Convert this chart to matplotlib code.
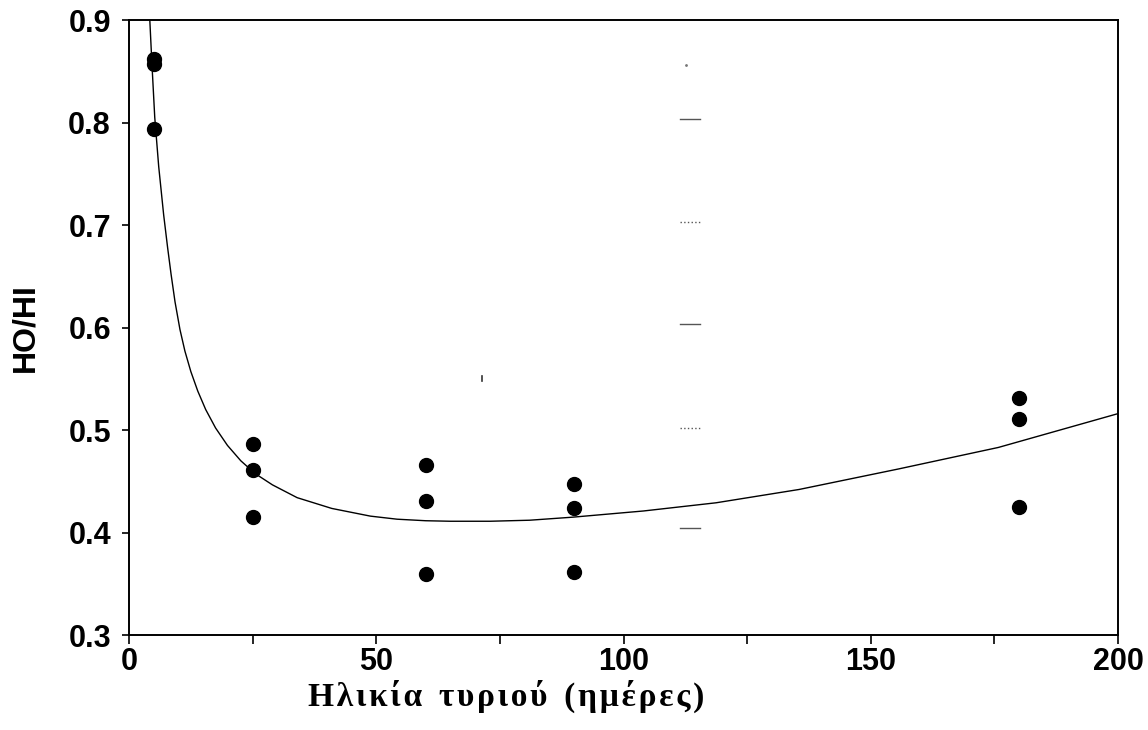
import matplotlib
matplotlib.use("Agg")
import matplotlib.pyplot as plt
from matplotlib.ticker import MultipleLocator

# measured points (cheese age in days, HO/HI)
age = [5, 5, 5, 25, 25, 25, 60, 60, 60, 90, 90, 90, 180, 180, 180]
ratio = [0.862, 0.857, 0.794, 0.486, 0.461, 0.415, 0.466, 0.431, 0.360,
         0.447, 0.424, 0.361, 0.531, 0.511, 0.425]

# fitted curve
curve_x = [4.2, 4.6, 5.2, 6.0, 7.0, 7.8, 8.5, 9.3, 10.3, 11.3, 12.5, 13.9,
           15.5, 17.5, 19.9, 22.6, 25.5, 29.0, 34.0, 41.0, 48.8, 54.2,
           60.0, 65.0, 73.0, 81.0, 89.8, 104.0, 118.7, 135.5, 155.6,
           175.8, 200.0]
curve_y = [0.900, 0.860, 0.805, 0.757, 0.710, 0.678, 0.652, 0.625, 0.598,
           0.577, 0.557, 0.538, 0.520, 0.502, 0.485, 0.470, 0.4575, 0.4465,
           0.434, 0.4235, 0.416, 0.413, 0.4115, 0.411, 0.411, 0.412, 0.415,
           0.421, 0.429, 0.442, 0.462, 0.483, 0.516]

# faint scan marks near x=113
mark_y = [0.803, 0.703, 0.603, 0.502, 0.404]
mark_style = ['-', ':', '-', ':', '-']

fig = plt.figure(figsize=(11.48, 7.30), dpi=100)
ax = fig.add_axes([0.1124, 0.1301, 0.8615, 0.8425])

ax.plot(curve_x, curve_y, color='black', lw=1.0)
ax.plot(age, ratio, 'o', color='black', ms=10)

for yy, ls in zip(mark_y, mark_style):
    ax.plot([111.5, 115.5], [yy, yy], color='#555555', lw=1.0, ls=ls)
ax.plot([112.6], [0.856], '.', color='#777777', ms=2)
ax.plot([71.4, 71.4], [0.548, 0.553], color='#333333', lw=1.2)

ax.set_xlim(0, 200)
ax.set_ylim(0.3, 0.9)
ax.xaxis.set_major_locator(MultipleLocator(50))
ax.xaxis.set_minor_locator(MultipleLocator(25))
ax.set_yticks([0.3, 0.4, 0.5, 0.6, 0.7, 0.8, 0.9])
ax.set_yticklabels(['0.3', '0.4', '0.5', '0.6', '0.7', '0.8', '0.9'])

for s in ax.spines.values():
    s.set_linewidth(1.4)
ax.tick_params(which='both', direction='out', top=False, right=False,
               width=1.2, colors='black')
ax.tick_params(axis='x', which='both', length=6.5, pad=2)
ax.tick_params(axis='y', length=5, pad=8)
for lab in ax.get_xticklabels() + ax.get_yticklabels():
    lab.set_fontfamily(['Liberation Sans', 'DejaVu Sans'])
    lab.set_fontweight('bold')
    lab.set_fontsize(22)

fig.text(0.0218, 0.5514, 'HO/HI', rotation=90, ha='center', va='center',
         fontsize=23, fontweight='bold',
         family=['Liberation Sans', 'DejaVu Sans'])

label = 'Ηλικία τυριού (ημέρες)'
spaced = '\u200a'.join(label).replace('\u200a \u200a', '  ')
fig.text(0.4408, 0.046, spaced, ha='center', va='center',
         fontsize=24, fontweight='bold',
         family=['Liberation Serif', 'DejaVu Serif'])

fig.savefig('out.png', dpi=100)
